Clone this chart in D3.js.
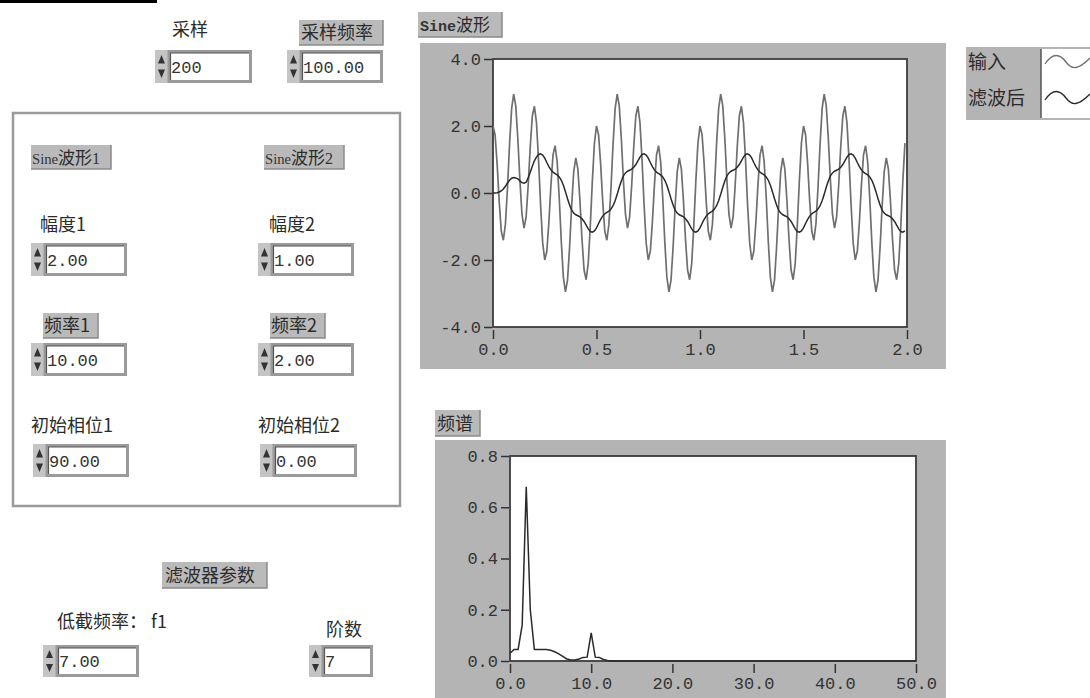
<!DOCTYPE html>
<meta charset="utf-8">
<style>
body { margin: 0; background: #fff; }
svg { display: block; }
.cjk { font-family: "Noto Sans CJK SC", sans-serif; font-size: 18px; fill: #2b2b2b; }
.num { font-family: "Liberation Mono", "DejaVu Sans Mono", monospace; font-size: 17px; fill: #333; }
.tick text { font-family: "Liberation Mono", "DejaVu Sans Mono", monospace; font-size: 17px; fill: #333; }
.tick line { stroke: #333; stroke-width: 1.5; }
</style>
<body>
<script src="https://d3js.org/d3.v7.min.js"></script>
<script>

// sampling setup (front panel values)
var samplingRate = 100;
var sampleCount = 200;
var specStep = 0.5; // Hz per spectrum bin

// input signal
var inputSignal = [
  2.00,1.74,0.87,-0.25,-1.14,-1.41,-0.93,0.15,1.46,2.52,
  2.95,2.60,1.62,0.38,-0.64,-1.05,-0.71,0.23,1.39,2.30,
  2.59,2.10,0.99,-0.37,-1.49,-2.00,-1.74,-0.87,0.25,1.14,
  1.41,0.93,-0.15,-1.46,-2.52,-2.95,-2.60,-1.62,-0.38,0.64,
  1.05,0.71,-0.23,-1.39,-2.30,-2.59,-2.10,-0.99,0.37,1.49,
  2.00,1.74,0.87,-0.25,-1.14,-1.41,-0.93,0.15,1.46,2.52,
  2.95,2.60,1.62,0.38,-0.64,-1.05,-0.71,0.23,1.39,2.30,
  2.59,2.10,0.99,-0.37,-1.49,-2.00,-1.74,-0.87,0.25,1.14,
  1.41,0.93,-0.15,-1.46,-2.52,-2.95,-2.60,-1.62,-0.38,0.64,
  1.05,0.71,-0.23,-1.39,-2.30,-2.59,-2.10,-0.99,0.37,1.49,
  2.00,1.74,0.87,-0.25,-1.14,-1.41,-0.93,0.15,1.46,2.52,
  2.95,2.60,1.62,0.38,-0.64,-1.05,-0.71,0.23,1.39,2.30,
  2.59,2.10,0.99,-0.37,-1.49,-2.00,-1.74,-0.87,0.25,1.14,
  1.41,0.93,-0.15,-1.46,-2.52,-2.95,-2.60,-1.62,-0.38,0.64,
  1.05,0.71,-0.23,-1.39,-2.30,-2.59,-2.10,-0.99,0.37,1.49,
  2.00,1.74,0.87,-0.25,-1.14,-1.41,-0.93,0.15,1.46,2.52,
  2.95,2.60,1.62,0.38,-0.64,-1.05,-0.71,0.23,1.39,2.30,
  2.59,2.10,0.99,-0.37,-1.49,-2.00,-1.74,-0.87,0.25,1.14,
  1.41,0.93,-0.15,-1.46,-2.52,-2.95,-2.60,-1.62,-0.38,0.64,
  1.05,0.71,-0.23,-1.39,-2.30,-2.59,-2.10,-0.99,0.37,1.49
];

// filtered signal
var filteredSignal = [
  0.00,0.00,0.01,0.03,0.06,0.12,0.20,0.30,0.38,0.44,
  0.46,0.45,0.42,0.36,0.31,0.29,0.32,0.45,0.62,0.80,
  0.96,1.07,1.15,1.17,1.13,1.04,0.91,0.79,0.69,0.62,
  0.58,0.54,0.48,0.38,0.23,0.04,-0.17,-0.36,-0.51,-0.60,
  -0.65,-0.68,-0.71,-0.77,-0.85,-0.96,-1.07,-1.15,-1.17,-1.13,
  -1.04,-0.91,-0.79,-0.69,-0.62,-0.58,-0.54,-0.48,-0.38,-0.23,
  -0.04,0.17,0.36,0.51,0.60,0.65,0.68,0.71,0.77,0.85,
  0.96,1.07,1.15,1.17,1.13,1.04,0.91,0.79,0.69,0.62,
  0.58,0.54,0.48,0.38,0.23,0.04,-0.17,-0.36,-0.51,-0.60,
  -0.65,-0.68,-0.71,-0.77,-0.85,-0.96,-1.07,-1.15,-1.17,-1.13,
  -1.04,-0.91,-0.79,-0.69,-0.62,-0.58,-0.54,-0.48,-0.38,-0.23,
  -0.04,0.17,0.36,0.51,0.60,0.65,0.68,0.71,0.77,0.85,
  0.96,1.07,1.15,1.17,1.13,1.04,0.91,0.79,0.69,0.62,
  0.58,0.54,0.48,0.38,0.23,0.04,-0.17,-0.36,-0.51,-0.60,
  -0.65,-0.68,-0.71,-0.77,-0.85,-0.96,-1.07,-1.15,-1.17,-1.13,
  -1.04,-0.91,-0.79,-0.69,-0.62,-0.58,-0.54,-0.48,-0.38,-0.23,
  -0.04,0.17,0.36,0.51,0.60,0.65,0.68,0.71,0.77,0.85,
  0.96,1.07,1.15,1.17,1.13,1.04,0.91,0.79,0.69,0.62,
  0.58,0.54,0.48,0.38,0.23,0.04,-0.17,-0.36,-0.51,-0.60,
  -0.65,-0.68,-0.71,-0.77,-0.85,-0.96,-1.07,-1.15,-1.17,-1.13
];

// amplitude spectrum, 0 .. 50 Hz in 0.5 Hz bins
var spectrum = [
  0.030,0.045,0.045,0.140,0.680,0.200,0.045,0.045,0.045,0.045,
  0.042,0.036,0.028,0.018,0.008,0.004,0.004,0.008,0.014,0.015,
  0.110,0.015,0.014,0.006,0.002,0,0,0,0,0,
  0,0,0,0,0,0,0,0,0,0, 0,0,0,0,0,0,0,0,0,0,
  0,0,0,0,0,0,0,0,0,0, 0,0,0,0,0,0,0,0,0,0,
  0,0,0,0,0,0,0,0,0,0, 0,0,0,0,0,0,0,0,0,0,
  0,0,0,0,0,0,0,0,0,0, 0
];

var sineTicksY = [-4, -2, 0, 2, 4];
var sineTicksX = [0, 0.5, 1, 1.5, 2];
var specTicksY = [0, 0.2, 0.4, 0.6, 0.8];
var specTicksX = [0, 10, 20, 30, 40, 50];
var seriesNames = ["输入", "滤波后"];

// front panel controls
var ctrlLabels = ["采样", "采样频率", "幅度1", "幅度2", "频率1", "频率2", "初始相位1", "初始相位2", "低截频率： f1", "阶数"];
var ctrlValues = ["200", "100.00", "2.00", "1.00", "10.00", "2.00", "90.00", "0.00", "7.00", "7"];

var svg = d3.select("body").append("svg")
    .attr("width", 1090)
    .attr("height", 698);

var frameGrey = "#b4b4b4";

// black bar top left
svg.append("rect").attr("x", 0).attr("y", 0).attr("width", 157).attr("height", 3).attr("fill", "#000");

// grey label (LabVIEW style)
function greyLabel(x, y, w, h) {
  svg.append("rect").attr("x", x).attr("y", y).attr("width", w).attr("height", h)
    .attr("fill", "#bababa");
  svg.append("path").attr("d", "M" + (x + w) + "," + y + "V" + (y + h) + "H" + x)
    .attr("fill", "none").attr("stroke", "#8a8a8a").attr("stroke-width", 1.5);
}

function cjkText(x, y, txt, size) {
  return svg.append("text").attr("class", "cjk").attr("x", x).attr("y", y)
    .style("font-size", (size || 18) + "px").text(txt);
}

// numeric control: spinner + box
function numControl(x, y, w, h, val) {
  svg.append("rect").attr("x", x).attr("y", y).attr("width", 14).attr("height", h)
    .attr("fill", "#c4c4c4");
  svg.append("path")
    .attr("d", "M" + (x + 3) + "," + (y + h / 2 - 3) + "L" + (x + 10) + "," + (y + h / 2 - 3) + "L" + (x + 6.5) + "," + (y + 5) + "Z")
    .attr("fill", "#333");
  svg.append("path")
    .attr("d", "M" + (x + 3) + "," + (y + h / 2 + 3) + "L" + (x + 10) + "," + (y + h / 2 + 3) + "L" + (x + 6.5) + "," + (y + h - 5) + "Z")
    .attr("fill", "#333");
  svg.append("rect").attr("x", x + 14).attr("y", y + 1.5).attr("width", w - 15.5).attr("height", h - 3)
    .attr("fill", "#fff").attr("stroke", "#9a9a9a").attr("stroke-width", 3);
  svg.append("path").attr("d", "M" + (x + 15.5) + "," + (y + h - 3) + "V" + (y + 3) + "H" + (x + w - 3))
    .attr("fill", "none").attr("stroke", "#555").attr("stroke-width", 1.2);
  svg.append("text").attr("class", "num").attr("x", x + 16).attr("y", y + h / 2 + 6).text(val);
}

// ---- top controls
cjkText(172, 36, ctrlLabels[0]);
numControl(155, 50, 97, 33, ctrlValues[0]);
greyLabel(299, 20, 84, 25);
cjkText(301, 39, ctrlLabels[1]);
numControl(287, 50, 96, 33, ctrlValues[1]);

// ---- left panel
svg.append("rect").attr("x", 13).attr("y", 113).attr("width", 387).attr("height", 393)
  .attr("fill", "none").attr("stroke", "#9a9a9a").attr("stroke-width", 2.5);

function sineLabel(x, y, suffix) {
  greyLabel(x, y, 80, 24);
  var t = svg.append("text").attr("x", x + 1).attr("y", y + 19);
  t.append("tspan").style("font-family", "'Liberation Serif', serif").style("font-size", "15px")
    .attr("fill", "#333").attr("textLength", 26).attr("lengthAdjust", "spacingAndGlyphs").text("Sine");
  t.append("tspan").attr("class", "cjk").style("font-size", "17px").attr("fill", "#2b2b2b").text("波形");
  t.append("tspan").style("font-family", "'Liberation Serif', serif").style("font-size", "16px")
    .attr("fill", "#333").text(suffix);
}
sineLabel(31, 145, "1");
sineLabel(264, 145, "2");

cjkText(40, 231, ctrlLabels[2]);
cjkText(269, 231, ctrlLabels[3]);
numControl(31, 243, 96, 33, ctrlValues[2]);
numControl(258, 243, 96, 33, ctrlValues[3]);

greyLabel(43, 313, 55, 25);
cjkText(44, 332, ctrlLabels[4]);
greyLabel(270, 313, 55, 25);
cjkText(271, 332, ctrlLabels[5]);
numControl(31, 343, 96, 33, ctrlValues[4]);
numControl(258, 343, 96, 33, ctrlValues[5]);

cjkText(31, 432, ctrlLabels[6]);
cjkText(258, 432, ctrlLabels[7]);
numControl(33, 444, 96, 33, ctrlValues[6]);
numControl(260, 444, 97, 33, ctrlValues[7]);

// ---- filter parameters
greyLabel(162, 562, 105, 26);
cjkText(165, 582, "滤波器参数");
cjkText(57, 628, ctrlLabels[8]);
cjkText(326, 636, ctrlLabels[9]);
numControl(43, 645, 96, 32, ctrlValues[8]);
numControl(309, 645, 64, 32, ctrlValues[9]);

// ---- Sine waveform graph
greyLabel(418, 12, 84, 25);
var st = svg.append("text").attr("x", 420).attr("y", 31);
st.append("tspan").attr("class", "num").style("font-size", "15px").style("font-weight", "bold").text("Sine");
st.append("tspan").attr("class", "cjk").style("font-size", "17px").text("波形");

svg.append("rect").attr("x", 420).attr("y", 43).attr("width", 526).attr("height", 326).attr("fill", frameGrey);

var xSine = d3.scaleLinear().domain([0, 2]).range([493, 907]);
var ySine = d3.scaleLinear().domain([-4, 4]).range([327, 59]);

svg.append("rect").attr("x", 493).attr("y", 59).attr("width", 414).attr("height", 268)
  .attr("fill", "#fff").attr("stroke", "#3c3c3c").attr("stroke-width", 1.8);

svg.append("clipPath").attr("id", "clipSine").append("rect")
  .attr("x", 493).attr("y", 59).attr("width", 414).attr("height", 268);

svg.append("g").attr("transform", "translate(492,0)")
  .call(d3.axisLeft(ySine).tickValues(sineTicksY).tickSize(8).tickPadding(3)
    .tickFormat(function(d) { return d.toFixed(1); }))
  .call(function(g) { g.select(".domain").remove(); });

svg.append("g").attr("transform", "translate(0,330)")
  .call(d3.axisBottom(xSine).tickValues(sineTicksX).tickSize(9).tickPadding(4)
    .tickFormat(function(d) { return d.toFixed(1); }))
  .call(function(g) { g.select(".domain").remove(); });

var sineLine = function(arr) {
  return d3.line()
    .x(function(d, i) { return xSine(i / samplingRate); })
    .y(function(d) { return ySine(d); })(arr);
};

svg.append("path").attr("d", sineLine(inputSignal)).attr("clip-path", "url(#clipSine)")
  .attr("fill", "none").attr("stroke", "#6f6f6f").attr("stroke-width", 1.7);
svg.append("path").attr("d", sineLine(filteredSignal)).attr("clip-path", "url(#clipSine)")
  .attr("fill", "none").attr("stroke", "#2a2a2a").attr("stroke-width", 1.5);

// legend
svg.append("rect").attr("x", 966).attr("y", 47).attr("width", 124).attr("height", 73).attr("fill", frameGrey);
svg.append("rect").attr("x", 1041).attr("y", 49).attr("width", 49).attr("height", 69)
  .attr("fill", "#fff");
svg.append("line").attr("x1", 1041).attr("x2", 1041).attr("y1", 49).attr("y2", 118)
  .attr("stroke", "#555").attr("stroke-width", 1.5);
var legendColors = ["#6f6f6f", "#2a2a2a"];
seriesNames.forEach(function(name, i) {
  var cy = 62 + i * 36;
  cjkText(968, cy + 7, name, 19);
  svg.append("path")
    .attr("d", "M1045," + (cy + 2) + "C1053," + (cy - 10) + " 1060," + (cy - 8) + " 1066," + cy +
      "S1078," + (cy + 8) + " 1090," + (cy - 4))
    .attr("fill", "none").attr("stroke", legendColors[i]).attr("stroke-width", 1.3);
});

// ---- Spectrum graph
greyLabel(435, 410, 45, 26);
cjkText(437, 430, "频谱");

svg.append("rect").attr("x", 435).attr("y", 440).attr("width", 511).attr("height", 258).attr("fill", frameGrey);

var xSpec = d3.scaleLinear().domain([0, 50]).range([510, 916]);
var ySpec = d3.scaleLinear().domain([0, 0.8]).range([661, 456]);

svg.append("rect").attr("x", 510).attr("y", 456).attr("width", 406).attr("height", 205)
  .attr("fill", "#fff").attr("stroke", "#3c3c3c").attr("stroke-width", 1.8);

svg.append("g").attr("transform", "translate(509,0)")
  .call(d3.axisLeft(ySpec).tickValues(specTicksY).tickSize(8).tickPadding(3)
    .tickFormat(function(d) { return d.toFixed(1); }))
  .call(function(g) { g.select(".domain").remove(); });

svg.append("g").attr("transform", "translate(0,664)")
  .call(d3.axisBottom(xSpec).tickValues(specTicksX).tickSize(9).tickPadding(4)
    .tickFormat(function(d) { return d.toFixed(1); }))
  .call(function(g) { g.select(".domain").remove(); });

svg.append("path")
  .attr("d", d3.line()
    .x(function(d, i) { return xSpec(i * specStep); })
    .y(function(d) { return ySpec(d); })(spectrum))
  .attr("fill", "none").attr("stroke", "#2a2a2a").attr("stroke-width", 1.5);

</script>
</body>
